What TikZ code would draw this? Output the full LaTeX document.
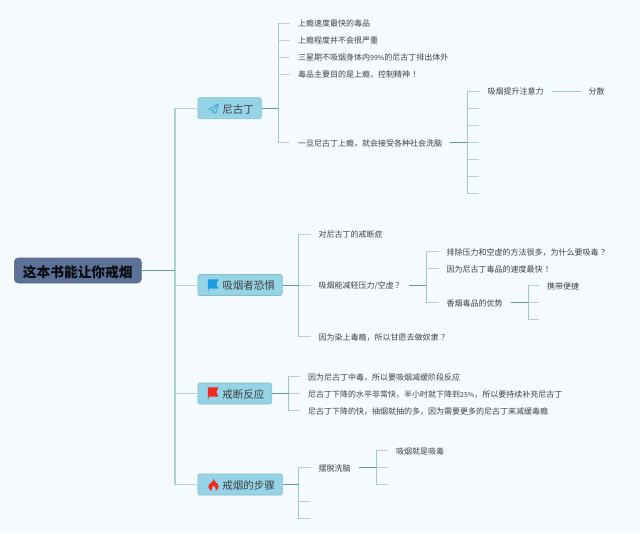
\documentclass[tikz,border=0pt]{standalone}
\usepackage{fontspec}
\setmainfont{Noto Sans CJK SC}
\definecolor{bgc}{HTML}{F5FAFF}
\definecolor{rootc}{HTML}{5C7197}
\definecolor{rootl}{HTML}{56698C}
\definecolor{topicc}{HTML}{95D3E6}
\definecolor{topicl}{HTML}{84BFC6}
\definecolor{stemc}{HTML}{5F9C8E}
\definecolor{busc}{HTML}{9CC9C0}
\definecolor{tickc}{HTML}{B9D2CE}
\definecolor{trunkc}{HTML}{A9D3CD}
\definecolor{txtc}{HTML}{404040}
\definecolor{planec}{HTML}{4AA8E0}
\definecolor{flagb}{HTML}{1E9BE0}
\definecolor{flagr}{HTML}{F0281E}
\tikzset{
 x=1pt,y=-1pt,
 rootbox/.style={draw=rootl,fill=rootc,rounded corners=4pt,line width=.6pt,minimum height=25pt,minimum width=127pt,inner sep=0pt,anchor=west,text height=13.4pt,text depth=0pt,font=\fontsize{13.7}{16}\selectfont\bfseries,text=black!90!rootc},
 topicbox/.style={draw=topicl,fill=topicc,rounded corners=1.5pt,line width=.6pt,minimum height=21pt,inner sep=0pt,anchor=west,text height=9.6pt,text depth=0pt,font=\fontsize{10.5}{12}\selectfont,text=black!75},
 leafbox/.style={anchor=west,inner xsep=8pt,inner ysep=0pt,text height=7.8pt,text depth=0pt,font=\fontsize{8}{10}\selectfont,text=txtc},
 stemline/.style={draw=stemc,line width=.9pt},
 busline/.style={draw=busc,line width=.9pt},
 tickline/.style={draw=tickc,line width=.8pt},
 rootstem/.style={draw=stemc,line width=1pt},
 trunkline/.style={draw=trunkc,line width=1.2pt},
 topictick/.style={draw=tickc,line width=1pt},
}
% parent anchor, bus coordinate, children
\newcommand{\treelines}[3]{%
 \foreach \c in {#3} {\draw[tickline] (#2) |- (\c);}
 \foreach \c in {#3} {\draw[busline] (#2) -- (#2 |- \c);}
 \draw[stemline] (#1) -- (#2);
}
\newcommand{\topictext}[1]{\hspace*{24.5pt}#1\hspace*{7.5pt}}
\newcommand{\nrw}[1]{{\fontsize{7}{10}\selectfont #1}}
\begin{document}
\begin{tikzpicture}
\useasboundingbox (0,0) rectangle (640,533);
\fill[bgc] (0,0) rectangle (640,533);
% root and topics
\node[rootbox] (root) at (14,270.5) {这本书能让你戒烟};
\node[topicbox] (t1) at (197.5,108.2) {\topictext{尼古丁}};
\node[topicbox] (t2) at (197.5,285) {\topictext{吸烟者恐惧}};
\node[topicbox] (t3) at (197.5,393.5) {\topictext{戒断反应}};
\node[topicbox] (t4) at (197.5,484.5) {\topictext{戒烟的步骤}};
% trunk
\coordinate (b0) at (175,270.5);
\foreach \c in {t1.west,t2.west,t3.west,t4.west} {\draw[topictick] (b0) |- (\c);}
\foreach \c in {t1.west,t2.west,t3.west,t4.west} {\draw[trunkline] (b0) -- (b0 |- \c);}
\draw[rootstem] (root.east) -- (b0);
% 尼古丁
\node[leafbox] (a1) at (290,23) {上瘾速度最快的毒品};
\node[leafbox] (a2) at (290,40) {上瘾程度并不会很严重};
\node[leafbox] (a3) at (290,57) {三星期不吸烟身体内\nrw{99\%}的尼古丁排出体外};
\node[leafbox] (a4) at (290,74) {毒品主要目的是上瘾，控制精神\kern2.5pt！};
\node[leafbox] (a5) at (290,142.5) {一旦尼古丁上瘾，就会接受各种社会洗脑};
\coordinate (b1) at (278,108.2);
\treelines{t1.east}{b1}{a1.west,a2.west,a3.west,a4.west,a5.west}
% 一旦 children
\node[leafbox] (d1) at (479.5,91) {吸烟提升注意力};
\coordinate (d2) at (479,108);
\coordinate (d3) at (479,125.3);
\coordinate (d4) at (479,142.5);
\coordinate (d5) at (479,159.5);
\coordinate (d6) at (479,176.5);
\coordinate (d7) at (479,193.5);
\coordinate (b2) at (467,142.5);
\treelines{a5.east}{b2}{d1.west,d2,d3,d4,d5,d6,d7}
\node[leafbox] (f1) at (580.5,91) {分散};
\draw[busline] (d1.east) -- (f1.west);
% 吸烟者恐惧
\node[leafbox] (g1) at (310.5,234) {对尼古丁的戒断症};
\node[leafbox] (g2) at (310.5,285) {吸烟能减轻压力/空虚\kern1.5pt？\kern-2.5pt};
\node[leafbox] (g3) at (310.5,336.5) {因为染上毒瘾，所以甘愿去做奴隶\kern2.5pt？};
\coordinate (b3) at (298.5,285);
\treelines{t2.east}{b3}{g1.west,g2.west,g3.west}
\node[leafbox] (h1) at (438.5,251.5) {排除压力和空虚的方法很多，为什么要吸毒\kern2.5pt？};
\node[leafbox] (h2) at (438.5,268.5) {因为尼古丁毒品的速度最快\kern2.5pt！};
\node[leafbox] (h3) at (438.5,302.5) {香烟毒品的优势};
\coordinate (b4) at (426,285);
\treelines{g2.east}{b4}{h1.west,h2.west,h3.west}
\node[leafbox] (i1) at (539,285.5) {携带便捷};
\coordinate (i2) at (539,302.5);
\coordinate (i3) at (539,319);
\coordinate (b5) at (528,302.5);
\treelines{h3.east}{b5}{i1.west,i2,i3}
% 戒断反应
\node[leafbox] (j1) at (300,376.5) {因为尼古丁中毒，所以要吸烟减缓阶段反应};
\node[leafbox] (j2) at (300,393.5) {尼古丁下降的水平非常快，半小时就下降到\nrw{25\%}，所以要持续补充尼古丁};
\node[leafbox] (j3) at (300,410.5) {尼古丁下降的快，抽烟就抽的多，因为需要更多的尼古丁来减缓毒瘾};
\coordinate (b6) at (288.5,393.5);
\treelines{t3.east}{b6}{j1.west,j2.west,j3.west}
% 戒烟的步骤
\node[leafbox] (k1) at (310.5,467.5) {摆脱洗脑};
\coordinate (k2) at (310,501.3);
\coordinate (k3) at (310,518.5);
\coordinate (b7) at (298.5,484.5);
\treelines{t4.east}{b7}{k1.west,k2,k3}
\node[leafbox] (l1) at (388,450.5) {吸烟就是吸毒};
\coordinate (l2) at (388,467.5);
\coordinate (l3) at (388,484.5);
\coordinate (b8) at (376,467.5);
\treelines{k1.east}{b8}{l1.west,l2,l3}
% icons
\draw[planec,line width=.8pt,line join=round] (218.5,103.7) -- (208.6,109) -- (212.6,110.6) -- (215.6,113.6) -- cycle (212.6,110.6) -- (218.5,103.7) (212.6,110.6) -- (212.9,113.4);
\fill[flagb] (207.8,279.4) -- (218.4,279.4) -- (216.4,284) -- (218.4,288.6) -- (208.7,288.6) -- (208.7,291) -- (207.8,291) -- cycle;
\fill[flagr] (207.8,387.4) -- (218.4,387.4) -- (216.4,392) -- (218.4,396.6) -- (208.7,396.6) -- (208.7,399) -- (207.8,399) -- cycle;
\fill[flagr] (213.6,478.8) .. controls (214,482) and (218.6,483) .. (218.6,486.6) .. controls (218.6,489) and (216.6,490.6) .. (215.6,490.6) .. controls (216.6,488.6) and (215,486.6) .. (213.6,485.4) .. controls (212.4,486.6) and (210.8,488.6) .. (211.6,490.6) .. controls (210.2,490.6) and (208.4,489) .. (208.4,486.6) .. controls (208.4,483.4) and (213.4,482.4) .. (213.6,478.8) -- cycle;
\end{tikzpicture}
\end{document}
